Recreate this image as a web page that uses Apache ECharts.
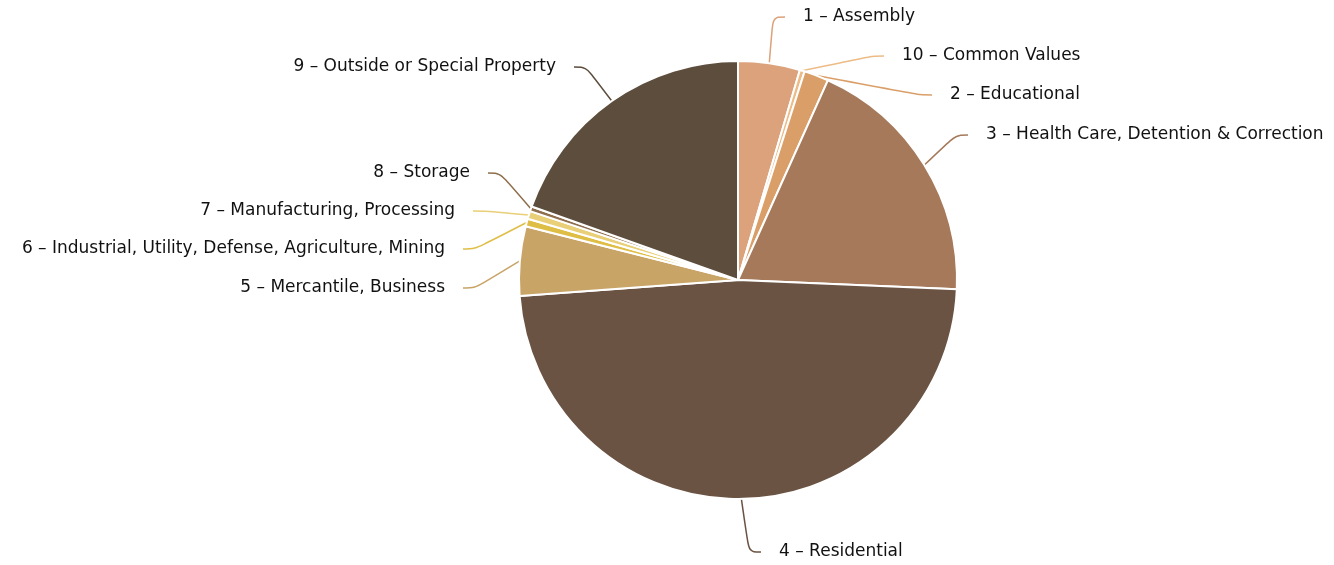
<!DOCTYPE html>
<html>
<head>
<meta charset="utf-8">
<title>Occupancy classes</title>
<script src="https://cdn.jsdelivr.net/npm/echarts@6/dist/echarts.min.js"></script>
<style>
  html, body { margin: 0; padding: 0; background: #fff; }
  #chart { width: 1334px; height: 565px; }
</style>
</head>
<body>
<div id="chart"></div>
<script>
const categories = [
  '1 – Assembly',
  '10 – Common Values',
  '2 – Educational',
  '3 – Health Care, Detention & Correction',
  '4 – Residential',
  '5 – Mercantile, Business',
  '6 – Industrial, Utility, Defense, Agriculture, Mining',
  '7 – Manufacturing, Processing',
  '8 – Storage',
  '9 – Outside or Special Property',
]
// share of total, percent
const shares = [4.56, 0.36, 1.81, 18.94, 48.17, 5.11, 0.56, 0.58, 0.36, 19.55]

const sliceColors = [
  '#dba27b', '#ecbb86', '#da9f68', '#a5795a', '#6a5343',
  '#c8a467', '#dfbe45', '#e8cf78', '#8e6e4c', '#5c4d3c',
]

// label anchor (edge of the padded label box where the guide line ends)
const labelSpots = [
  { x: 785, y: 17, align: 'left' },
  { x: 884, y: 56, align: 'left' },
  { x: 932, y: 95, align: 'left' },
  { x: 968, y: 135, align: 'left' },
  { x: 761, y: 552, align: 'left' },
  { x: 463, y: 288, align: 'right' },
  { x: 463, y: 249, align: 'right' },
  { x: 473, y: 211, align: 'right' },
  { x: 488, y: 173, align: 'right' },
  { x: 574, y: 67, align: 'right' },
]

const chart = echarts.init(document.getElementById('chart'))

const option = {
  animation: false,
  backgroundColor: '#fff',
  series: [
    {
      type: 'pie',
      center: [738, 280],
      radius: 219,
      startAngle: 90,
      clockwise: true,
      avoidLabelOverlap: false,
      itemStyle: {
        borderColor: '#fff',
        borderWidth: 2,
      },
      label: {
        show: true,
        position: 'outside',
        overflow: 'none',
        fontFamily: 'DejaVu Sans',
        fontSize: 17,
        color: '#111',
        padding: [0, 18],
        backgroundColor: 'rgba(255,255,255,0)',
        formatter: '{b}',
      },
      labelLine: {
        show: true,
        length: 15,
        length2: 12,
        smooth: 0.35,
        lineStyle: { width: 1.5 },
      },
      labelLayout: (params) => {
        const spot = labelSpots[params.dataIndex]
        return {
          x: spot.x,
          y: spot.y,
          align: spot.align,
          verticalAlign: 'middle',
        }
      },
      data: categories.map((name, i) => ({
        name,
        value: shares[i],
        itemStyle: { color: sliceColors[i] },
      })),
    },
  ],
}

option && chart.setOption(option)
</script>
</body>
</html>
